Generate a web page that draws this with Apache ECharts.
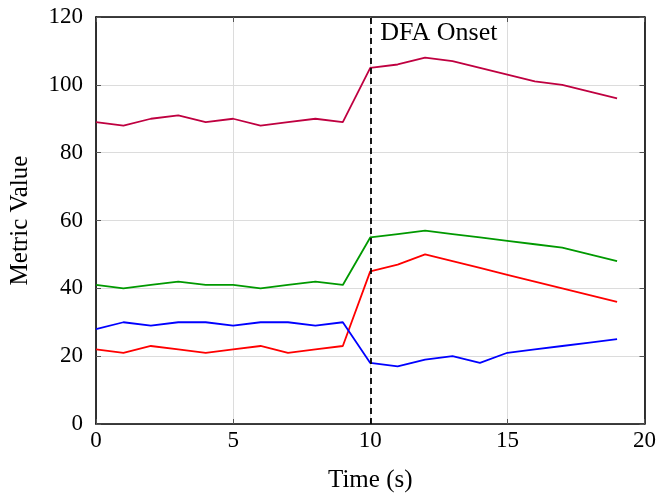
<!DOCTYPE html>
<html><head><meta charset="utf-8">
<script src="https://cdn.jsdelivr.net/npm/echarts@6/dist/echarts.min.js"></script>
<style>html,body{margin:0;padding:0;background:#fff}#c{width:659px;height:498px}</style>
</head><body><div id="c"></div>
<script>
const times = [0,1,2,3,4,5,6,7,8,9,10,11,12,13,14,15,16,17,18,19];
const purpleSeries = [89,88,90,91,89,90,88,89,90,89,105,106,108,107,105,103,101,100,98,96];
const greenSeries  = [41,40,41,42,41,41,40,41,42,41,55,56,57,56,55,54,53,52,50,48];
const redSeries    = [22,21,23,22,21,22,23,21,22,23,45,47,50,48,46,44,42,40,38,36];
const blueSeries   = [28,30,29,30,30,29,30,30,29,30,18,17,19,20,18,21,22,23,24,25];
const onsetTime = 10;
const onsetLabel = 'DFA Onset';

const font = '"Liberation Serif","DejaVu Serif",serif';
const pair = arr => times.map((t,i)=>[t,arr[i]]);
function line(name, data, color, extra){
  return Object.assign({name, type:'line', data:pair(data), showSymbol:false, symbol:'none',
    lineStyle:{color, width:1.8}, itemStyle:{color}, animation:false}, extra||{});
}
const chart = echarts.init(document.getElementById('c'), null, {renderer:'canvas'});
const axisCommon = {
  min:0, axisLine:{show:true, onZero:false, lineStyle:{color:'#000', width:1.6}},
  axisTick:{show:true, inside:true, length:5, lineStyle:{color:'#555', width:1}},
  splitLine:{show:true, lineStyle:{color:'#dcdcdc', width:1}},
};
chart.setOption({
  backgroundColor:'#fff',
  animation:false,
  grid:{left:96, right:14, top:17, bottom:72},
  xAxis:[
    Object.assign({}, axisCommon, {type:'value', max:20, interval:5, position:'bottom',
      name:'Time (s)', nameLocation:'middle', nameGap:44,
      nameTextStyle:{fontFamily:font, fontSize:25, color:'#000'},
      axisLabel:{fontFamily:font, fontSize:23, color:'#000', margin:5}}),
    Object.assign({}, axisCommon, {type:'value', max:20, interval:5, position:'top',
      axisLabel:{show:false}, splitLine:{show:false}})
  ],
  yAxis:[
    Object.assign({}, axisCommon, {type:'value', max:120, interval:20, position:'left',
      name:'Metric Value', nameLocation:'middle', nameGap:63, nameRotate:90,
      nameTextStyle:{fontFamily:font, fontSize:25, color:'#000'},
      axisLabel:{fontFamily:font, fontSize:23, color:'#000', margin:13}}),
    Object.assign({}, axisCommon, {type:'value', max:120, interval:20, position:'right',
      axisLabel:{show:false}, splitLine:{show:false}})
  ],
  series:[
    line('purple', purpleSeries, '#BF0040', {
      markLine:{silent:true, symbol:['none','none'],
        lineStyle:{color:'#000', type:[6,4], width:1.8},
        label:{show:false},
        data:[{xAxis:onsetTime}]},
      markPoint:{silent:true, symbol:'circle', symbolSize:0,
        label:{show:true, position:'right', distance:10, offset:[0,16], formatter:onsetLabel,
          fontFamily:font, fontSize:26, color:'#000'},
        data:[{coord:[onsetTime,120]}]}
    }),
    line('green', greenSeries, '#009900'),
    line('red', redSeries, '#FF0000'),
    line('blue', blueSeries, '#0000FF')
  ]
});
</script></body></html>
